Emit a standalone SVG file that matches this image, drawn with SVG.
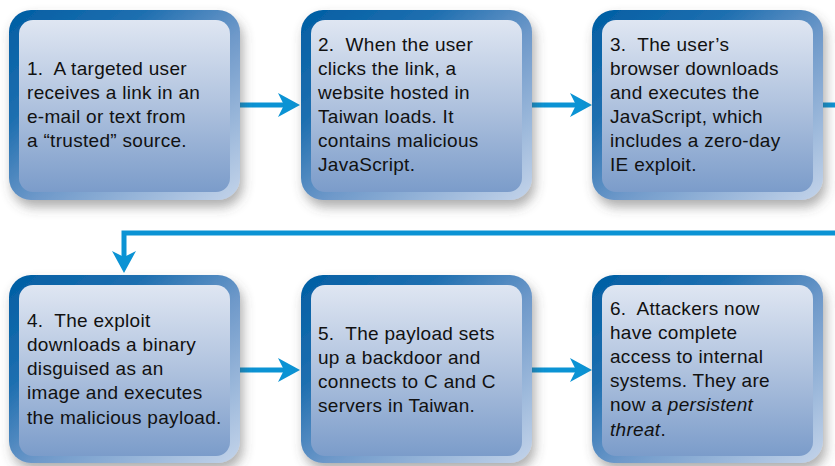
<svg xmlns="http://www.w3.org/2000/svg" width="835" height="466" viewBox="0 0 835 466">
<defs>
<linearGradient id="frame" x1="0" y1="0" x2="1" y2="1">
<stop offset="0" stop-color="#005ea3"/>
<stop offset="0.3" stop-color="#1f6fb0"/>
<stop offset="0.55" stop-color="#6d98c9"/>
<stop offset="1" stop-color="#c4d4ea"/>
</linearGradient>
<linearGradient id="panel" x1="0" y1="0" x2="0" y2="1">
<stop offset="0" stop-color="#dfe6f2"/>
<stop offset="0.5" stop-color="#afc2de"/>
<stop offset="1" stop-color="#7b9cca"/>
</linearGradient>
<filter id="shadow" x="-10%" y="-10%" width="130%" height="140%">
<feDropShadow dx="3" dy="7" stdDeviation="6" flood-color="#4a4a4a" flood-opacity="0.45"/>
</filter>
<marker id="head" markerUnits="userSpaceOnUse" markerWidth="24" markerHeight="26" refX="6" refY="12" orient="auto">
<path d="M0,0 L22,12 L0,24 L6,12 z" fill="#0b93d4"/>
</marker>
</defs>
<style>
.frame{fill:url(#frame);filter:url(#shadow)}
.panel{fill:url(#panel)}
.t{font-family:"Liberation Sans",Arial,Helvetica,sans-serif;font-size:19px;letter-spacing:0.3px;fill:#111}
.c{fill:none;stroke:#0b93d4;stroke-width:5}
.a{marker-end:url(#head)}
</style>
<g id="connectors">
<path class="c a" d="M240,105 H284"/>
<path class="c a" d="M532,105 H576"/>
<path class="c" d="M822,105 H835"/>
<path class="c a" d="M835,233 H124 V257"/>
<path class="c a" d="M240,370 H284"/>
<path class="c a" d="M531,370 H576"/>
</g>
<g id="node1">
<rect class="frame" x="9" y="10" width="231" height="190" rx="22"/>
<rect class="panel" x="19" y="20" width="211" height="172" rx="14"/>
<text class="t" x="27" y="75">1.&#160; A targeted user</text>
<text class="t" x="27" y="99">receives a link in an</text>
<text class="t" x="27" y="123">e-mail or text from</text>
<text class="t" x="27" y="147">a “trusted” source.</text>
</g>
<g id="node2">
<rect class="frame" x="301" y="10" width="231" height="190" rx="22"/>
<rect class="panel" x="311" y="20" width="211" height="172" rx="14"/>
<text class="t" x="318" y="51">2.&#160; When the user</text>
<text class="t" x="318" y="75">clicks the link, a</text>
<text class="t" x="318" y="99">website hosted in</text>
<text class="t" x="318" y="123">Taiwan loads. It</text>
<text class="t" x="318" y="147">contains malicious</text>
<text class="t" x="318" y="171">JavaScript.</text>
</g>
<g id="node3">
<rect class="frame" x="592" y="10" width="231" height="190" rx="22"/>
<rect class="panel" x="602" y="20" width="211" height="172" rx="14"/>
<text class="t" x="610" y="51">3.&#160; The user’s</text>
<text class="t" x="610" y="75">browser downloads</text>
<text class="t" x="610" y="99">and executes the</text>
<text class="t" x="610" y="123">JavaScript, which</text>
<text class="t" x="610" y="147">includes a zero-day</text>
<text class="t" x="610" y="171">IE exploit.</text>
</g>
<g id="node4">
<rect class="frame" x="9" y="275" width="231" height="188" rx="22"/>
<rect class="panel" x="19" y="285" width="211" height="171" rx="14"/>
<text class="t" x="27" y="327">4.&#160; The exploit</text>
<text class="t" x="27" y="351">downloads a binary</text>
<text class="t" x="27" y="375">disguised as an</text>
<text class="t" x="27" y="399">image and executes</text>
<text class="t" x="27" y="424">the malicious payload.</text>
</g>
<g id="node5">
<rect class="frame" x="301" y="275" width="231" height="188" rx="22"/>
<rect class="panel" x="311" y="285" width="211" height="171" rx="14"/>
<text class="t" x="318" y="340">5.&#160; The payload sets</text>
<text class="t" x="318" y="364">up a backdoor and</text>
<text class="t" x="318" y="388">connects to C and C</text>
<text class="t" x="318" y="412">servers in Taiwan.</text>
</g>
<g id="node6">
<rect class="frame" x="592" y="275" width="231" height="188" rx="22"/>
<rect class="panel" x="602" y="285" width="211" height="171" rx="14"/>
<text class="t" x="610" y="315">6.&#160; Attackers now</text>
<text class="t" x="610" y="339">have complete</text>
<text class="t" x="610" y="363">access to internal</text>
<text class="t" x="610" y="387">systems. They are</text>
<text class="t" x="610" y="411">now a <tspan font-style="italic">persistent</tspan></text>
<text class="t" x="610" y="436"><tspan font-style="italic">threat</tspan>.</text>
</g>
</svg>
